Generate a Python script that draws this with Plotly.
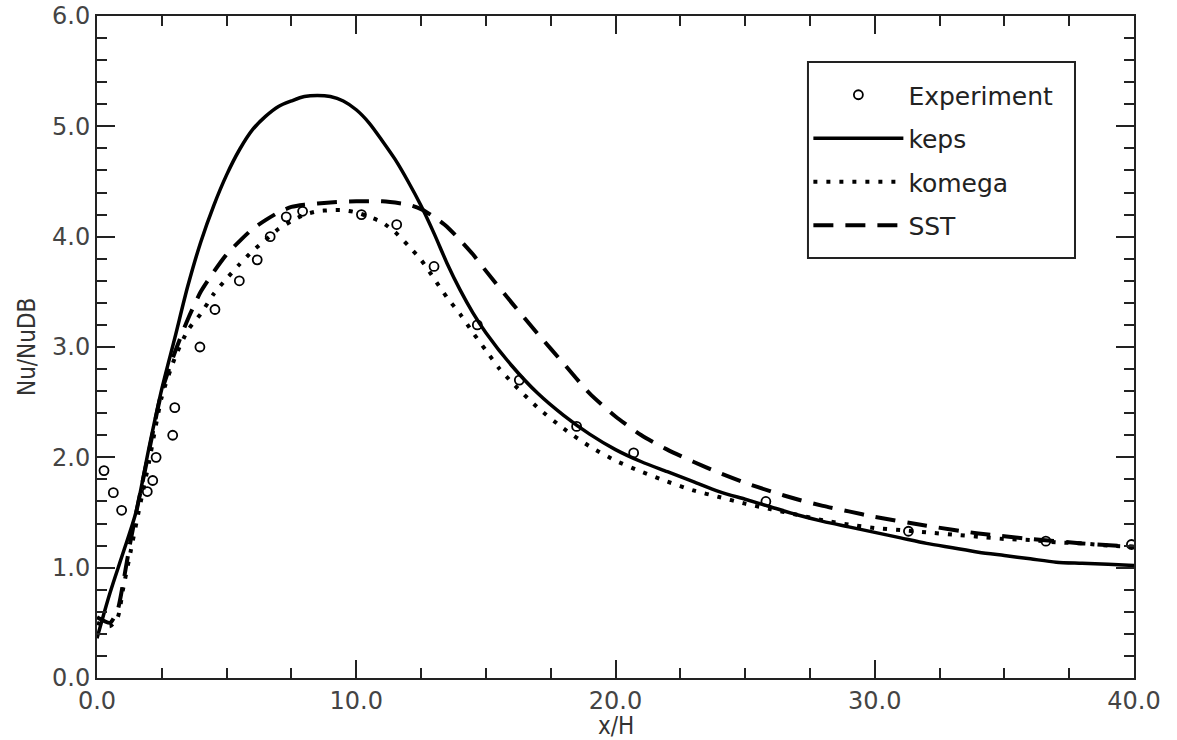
import plotly.graph_objects as go

# Experiment points
exp_x = [0.27, 0.63, 0.95, 1.94, 2.15, 2.28, 2.92, 3.0, 3.97, 4.55, 5.49, 6.18, 6.68, 7.3, 7.93,
         10.2, 11.56, 13.0, 14.67, 16.29, 18.5, 20.7, 25.8, 31.3, 36.6, 39.9]
exp_y = [1.88, 1.68, 1.52, 1.69, 1.79, 2.0, 2.2, 2.45, 3.0, 3.34, 3.6, 3.79, 4.0, 4.18, 4.23,
         4.2, 4.11, 3.73, 3.2, 2.7, 2.28, 2.04, 1.6, 1.33, 1.24, 1.21]

# k-epsilon
keps_x = [0, 0.5, 1.0, 1.5, 2.0, 2.5, 3.0, 3.5, 4.0, 4.5, 5.0, 5.5, 6.0, 6.5, 7.0, 7.5, 8.0, 8.5,
          9.0, 9.5, 10.0, 10.5, 11.0, 11.5, 12.0, 12.5, 13.0, 13.5, 14.0, 14.5, 15.0, 16.0, 17.0,
          18.0, 19.0, 20.0, 21.0, 22.0, 23.0, 24.0, 25.0, 26.0, 27.0, 28.0, 29.0, 30.0, 31.0,
          32.0, 33.0, 34.0, 35.0, 36.0, 37.0, 38.0, 39.0, 40.0]
keps_y = [0.36, 0.77, 1.13, 1.5, 2.08, 2.62, 3.08, 3.55, 3.95, 4.28, 4.56, 4.79, 4.97, 5.09, 5.18,
          5.23, 5.27, 5.28, 5.27, 5.23, 5.15, 5.03, 4.87, 4.7, 4.5, 4.28, 4.03, 3.76, 3.52, 3.31,
          3.13, 2.83, 2.58, 2.38, 2.21, 2.07, 1.96, 1.87, 1.78, 1.69, 1.62, 1.55, 1.48, 1.42,
          1.37, 1.32, 1.27, 1.22, 1.18, 1.14, 1.11, 1.08, 1.05, 1.04, 1.03, 1.02]

# k-omega
kom_x = [0, 0.5, 0.8, 1.0, 1.3, 1.6, 2.0, 2.5, 3.0, 3.5, 4.0, 4.5, 5.0, 5.5, 6.0, 6.5, 7.0, 7.5,
         8.0, 8.5, 9.0, 9.5, 10.0, 10.5, 11.0, 11.5, 12.0, 12.5, 13.0, 13.5, 14.0, 14.5, 15.0,
         15.5, 16.0, 17.0, 18.0, 19.0, 20.0, 21.0, 22.0, 23.0, 24.0, 25.0, 26.0, 27.0, 28.0,
         29.0, 30.0, 31.0, 32.0, 33.0, 34.0, 35.0, 36.0, 37.0, 38.0, 39.0, 40.0]
kom_y = [0.5, 0.47, 0.55, 0.8, 1.15, 1.5, 1.95, 2.55, 2.9, 3.15, 3.3, 3.48, 3.62, 3.75, 3.87,
         3.97, 4.07, 4.14, 4.2, 4.23, 4.24, 4.24, 4.22, 4.18, 4.13, 4.04, 3.92, 3.79, 3.62, 3.45,
         3.3, 3.13, 2.97, 2.81, 2.68, 2.45, 2.26, 2.1, 1.97, 1.87, 1.78, 1.7, 1.64, 1.58, 1.53,
         1.48, 1.43, 1.39, 1.36, 1.34, 1.32, 1.3, 1.28, 1.26, 1.25, 1.23, 1.22, 1.2, 1.19]

# SST
sst_x = [0, 0.5, 0.8, 1.0, 1.3, 1.6, 2.0, 2.5, 3.0, 3.5, 4.0, 4.5, 5.0, 5.5, 6.0, 6.5, 7.0, 7.5,
         8.0, 9.0, 10.0, 11.0, 12.0, 12.5, 13.0, 13.5, 14.0, 14.5, 15.0, 16.0, 17.0, 18.0, 19.0,
         20.0, 21.0, 22.0, 23.0, 24.0, 25.0, 26.0, 27.0, 28.0, 29.0, 30.0, 32.0, 34.0, 36.0,
         38.0, 40.0]
sst_y = [0.55, 0.5, 0.62, 0.85, 1.25, 1.6, 2.05, 2.6, 2.95, 3.25, 3.5, 3.68, 3.84, 3.96, 4.07,
         4.15, 4.22, 4.27, 4.29, 4.31, 4.32, 4.32, 4.29, 4.25, 4.18, 4.09, 3.97, 3.84, 3.69,
         3.4, 3.12, 2.85, 2.58, 2.37, 2.2, 2.07, 1.96, 1.86, 1.77, 1.69, 1.62, 1.56, 1.51, 1.46,
         1.38, 1.31, 1.26, 1.22, 1.19]

x_ticks = [0, 10, 20, 30, 40]
x_labels = ["0.0", "10.0", "20.0", "30.0", "40.0"]
y_ticks = [0, 1, 2, 3, 4, 5, 6]
y_labels = ["0.0", "1.0", "2.0", "3.0", "4.0", "5.0", "6.0"]
x_title = "x/H"
y_title = "Nu/NuDB"

fig = go.Figure()
fig.add_trace(go.Scatter(x=exp_x, y=exp_y, mode="markers", name="Experiment", legendgroup="a",
                         marker=dict(symbol="circle-open", size=9, color="black",
                                     line=dict(width=1.8, color="black"))))
fig.add_trace(go.Scatter(x=keps_x, y=keps_y, mode="lines", name="keps", legendgroup="b",
                         line=dict(color="black", width=3.5, shape="spline", smoothing=0.8)))
fig.add_trace(go.Scatter(x=kom_x, y=kom_y, mode="lines", name="komega", legendgroup="c",
                         line=dict(color="black", width=4, dash="4px,9px", shape="spline",
                                   smoothing=0.6)))
fig.add_trace(go.Scatter(x=sst_x, y=sst_y, mode="lines", name="SST", legendgroup="d",
                         line=dict(color="black", width=4, dash="20px,12px", shape="spline",
                                   smoothing=0.6)))

tickfont = dict(family="DejaVu Sans, Liberation Sans, sans-serif", size=24, color="#444")
titlefont = dict(family="DejaVu Sans Condensed, DejaVu Sans, sans-serif", size=24, color="#333")
axis_common = dict(showline=True, linecolor="#222", linewidth=2, mirror="allticks",
                   ticks="inside", tickcolor="#222", tickwidth=1.5, ticklen=18,
                   showgrid=False, zeroline=False, tickfont=tickfont, automargin=False)

fig.update_xaxes(range=[0, 40], tickvals=x_ticks, ticktext=x_labels,
                 minor=dict(dtick=2.5, ticks="inside", ticklen=10, tickcolor="#222", tickwidth=1.5),
                 **axis_common)
fig.update_yaxes(range=[0, 6], tickvals=y_ticks, ticktext=y_labels,
                 minor=dict(dtick=0.2, ticks="inside", ticklen=10, tickcolor="#222", tickwidth=1.5),
                 **axis_common)

# axis titles
fig.add_annotation(text=x_title, xref="paper", yref="paper", x=0.5, y=0, xanchor="center",
                   yanchor="middle", yshift=-48, showarrow=False, font=titlefont)
fig.add_annotation(text=y_title, xref="paper", yref="paper", x=0, y=0.5, xanchor="center",
                   yanchor="middle", xshift=-70, textangle=-90, showarrow=False, font=titlefont)

# legend frame (paper coordinates)
fig.add_shape(type="rect", xref="paper", yref="paper", x0=0.6856, x1=0.9431, y0=0.6344, y1=0.9305,
              line=dict(color="#222", width=2), fillcolor="white", layer="above")

fig.update_layout(
    width=1177, height=740,
    margin=dict(l=97, r=43, t=16, b=62),
    plot_bgcolor="white", paper_bgcolor="white",
    legend=dict(x=0.686, y=0.9154, xanchor="left", yanchor="top",
                borderwidth=0, bgcolor="rgba(0,0,0,0)",
                font=dict(family="DejaVu Sans, Liberation Sans, sans-serif", size=25, color="#222"),
                itemwidth=90, tracegroupgap=8, traceorder="grouped"),
    showlegend=True,
)

fig.write_html("out.html")
